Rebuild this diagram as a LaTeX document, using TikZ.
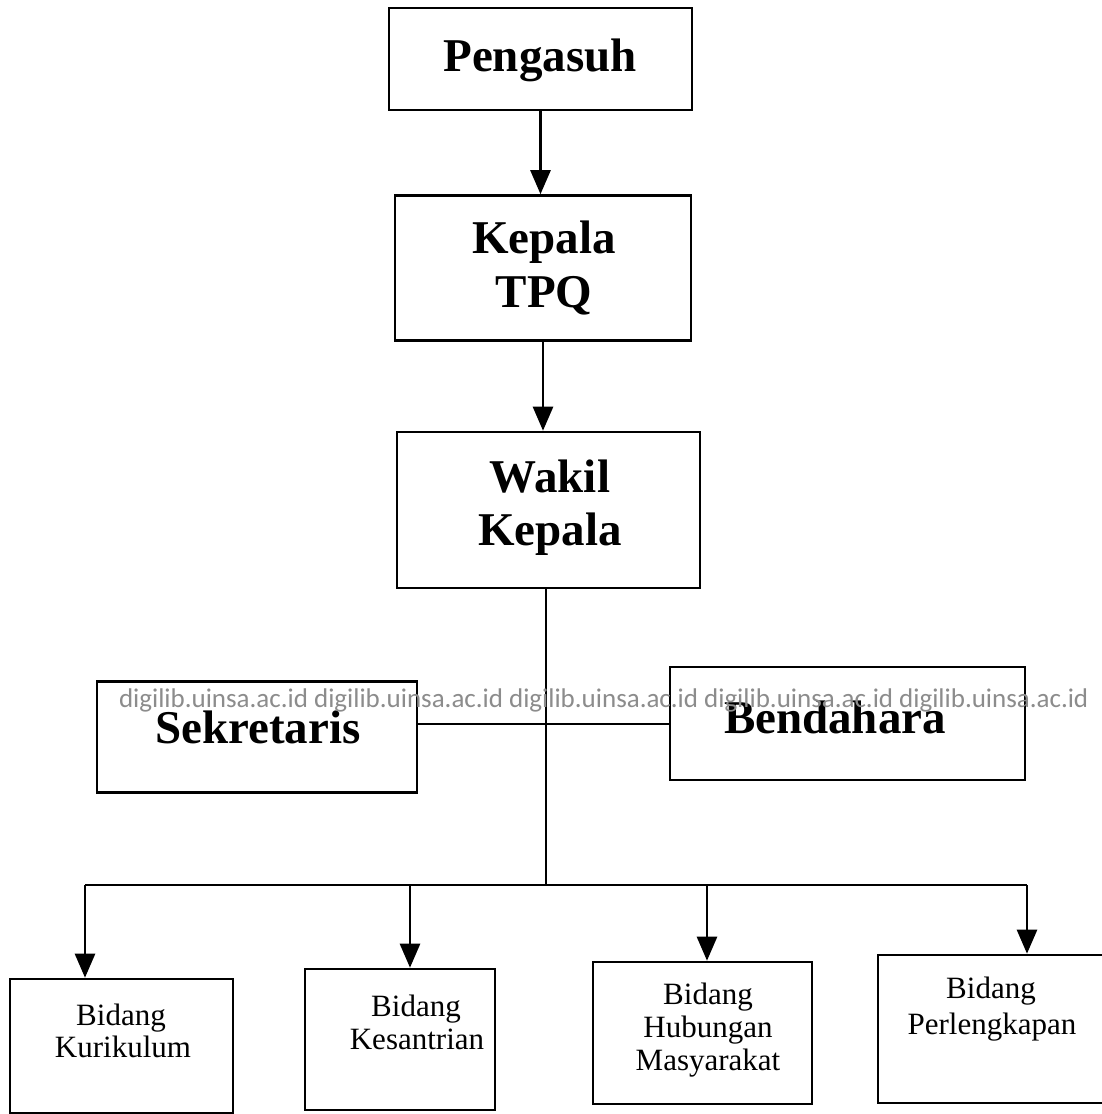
\documentclass[tikz,border=0pt]{standalone}
\usepackage{fontspec}
\setmainfont{Liberation Serif}
\newfontfamily\wmfont{Carlito}
\usetikzlibrary{arrows.meta}
\begin{document}
\begin{tikzpicture}[x=1pt,y=-1pt,
  box/.style={draw, line width=2.6pt, inner sep=0pt},
  big/.style={font=\fontsize{47}{55}\selectfont\bfseries, inner sep=0pt, anchor=base},
  small/.style={font=\fontsize{31}{36}\selectfont, inner sep=0pt, anchor=base},
  conn/.style={line width=2.6pt},
  arr/.style={line width=2.6pt, -{Triangle[length=24pt,width=20pt]}},
  wm/.style={font=\wmfont\fontsize{27}{30}\selectfont, text=black!45, inner sep=0pt},
]
\useasboundingbox (0,0) rectangle (1101,1114);
\fill[white] (0,0) rectangle (1101,1114);

% boxes
\node[box, minimum width=303pt, minimum height=102pt] (peng) at (540.5,59) {};
\node[box, minimum width=296pt, minimum height=145pt] (kep) at (543,268) {};
\node[box, minimum width=303pt, minimum height=156pt] (wak) at (548.5,510) {};
\node[box, minimum width=320pt, minimum height=111pt] (sek) at (257,737) {};
\node[box, minimum width=355pt, minimum height=113pt] (ben) at (847.5,723.5) {};
\node[box, minimum width=223pt, minimum height=134pt] (kur) at (121.5,1046) {};
\node[box, minimum width=190pt, minimum height=141pt] (kes) at (400,1039.5) {};
\node[box, minimum width=219pt, minimum height=142pt] (hub) at (702.5,1033) {};
\node[box, minimum width=240pt, minimum height=148pt] (per) at (998,1029) {};

% texts
\node[big] (t1) at (540,71) {Pengasuh};
\node[big] (t2a) at (544,253) {Kepala};
\node[big] (t2b) at (544,307) {TPQ};
\node[big] (t3a) at (550,492) {Wakil};
\node[big] (t3b) at (550,545) {Kepala};
\node[big] (t4) at (258,743) {Sekretaris};
\node[big] (t5) at (835,733) {Bendahara};
\node[small] (t6a) at (121,1025) {Bidang};
\node[small] (t6b) at (123,1057) {Kurikulum};
\node[small] (t7a) at (416,1016) {Bidang};
\node[small] (t7b) at (417,1049) {Kesantrian};
\node[small] (t8a) at (708,1004) {Bidang};
\node[small] (t8b) at (708,1037) {Hubungan};
\node[small] (t8c) at (708,1070) {Masyarakat};
\node[small] (t9a) at (991,998) {Bidang};
\node[small] (t9b) at (992,1034) {Perlengkapan};

% connectors
\draw[arr] (peng.south) -- (peng.south |- kep.north);
\draw[arr] (kep.south) -- (kep.south |- wak.north);
\coordinate (bus) at (546,885);
\draw[conn] (wak.south -| bus) -- (bus);
\coordinate (sl) at (417,724);
\draw[conn] (sl) -- (sl -| ben.west);
\coordinate (b1) at (85,885);
\coordinate (b2) at (410,885);
\coordinate (b3) at (707,885);
\coordinate (b4) at (1027,885);
\draw[conn] (b1) -- (b4);
\draw[arr] (b1) -- (b1 |- kur.north);
\draw[arr] (b2) -- (b2 |- kes.north);
\draw[arr] (b3) -- (b3 |- hub.north);
\draw[arr] (b4) -- (b4 |- per.north);

% watermark
\node[wm] (wmark) at (604,700) {digilib.uinsa.ac.id digilib.uinsa.ac.id digilib.uinsa.ac.id digilib.uinsa.ac.id digilib.uinsa.ac.id};
\end{tikzpicture}
\end{document}
